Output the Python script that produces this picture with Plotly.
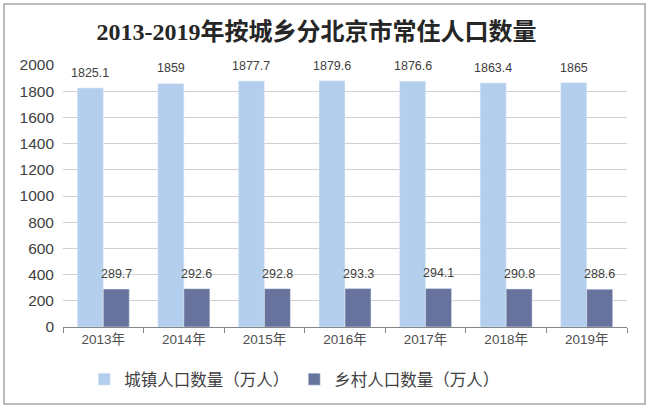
import plotly.graph_objects as go

years = ["2013年", "2014年", "2015年", "2016年", "2017年", "2018年", "2019年"]
urban = [1825.1, 1859, 1877.7, 1879.6, 1876.6, 1863.4, 1865]
rural = [289.7, 292.6, 292.8, 293.3, 294.1, 290.8, 288.6]
urban_name = "城镇人口数量（万人）"
rural_name = "乡村人口数量（万人）"
title = "2013-2019年按城乡分北京市常住人口数量"

font_cn = "Liberation Sans, Noto Sans CJK SC, sans-serif"
urban_color = "#b4cfee"
rural_color = "#67739c"

fig = go.Figure()
fig.add_trace(go.Bar(x=years, y=urban, name=urban_name, marker_color=urban_color))
fig.add_trace(go.Bar(x=years, y=rural, name=rural_name, marker_color=rural_color))

# data labels, placed from the data values
for vals, dx in ((urban, -13), (rural, 13)):
    for yr, v in zip(years, vals):
        fig.add_annotation(x=yr, y=v, text=f"{v:g}", showarrow=False,
                           xshift=dx, yshift=15, yanchor="middle",
                           font=dict(size=12.5, color="#404040", family=font_cn))

fig.update_layout(
    width=650, height=411,
    margin=dict(l=63, r=23, t=65, b=84),
    paper_bgcolor="white", plot_bgcolor="white",
    barmode="group", bargap=0.355, bargroupgap=0,
    title=dict(text=title, x=0.487, xanchor="center", y=0.922, yanchor="middle",
               font=dict(size=24, color="#262626",
                         family="Liberation Serif, Noto Sans CJK SC, serif", weight="bold")),
    font=dict(family=font_cn, color="#404040"),
    legend=dict(orientation="h", x=0.41, xanchor="center", y=-0.2, yanchor="middle",
                font=dict(size=16.5, color="#404040", family=font_cn),
                itemwidth=30, tracegroupgap=0),
    showlegend=True,
)
fig.update_xaxes(
    showline=True, linecolor="#868686", linewidth=1,
    ticks="outside", tickson="boundaries", ticklen=5, tickcolor="#868686",
    tickfont=dict(size=13.5, color="#505050"),
)
fig.update_yaxes(
    range=[0, 2000], dtick=200, showgrid=True, gridcolor="#d0d0d0", gridwidth=1,
    zeroline=False, tickfont=dict(size=15.5, color="#404040"), ticks="",
    ticklabelstandoff=8,
)
fig.add_shape(type="rect", xref="paper", yref="paper",
              x0=-0.1046, x1=1.032, y0=-0.294, y1=1.233,
              line=dict(color="#a6a6a6", width=1.5), fillcolor="rgba(0,0,0,0)", layer="below")

fig.write_html("out.html")
